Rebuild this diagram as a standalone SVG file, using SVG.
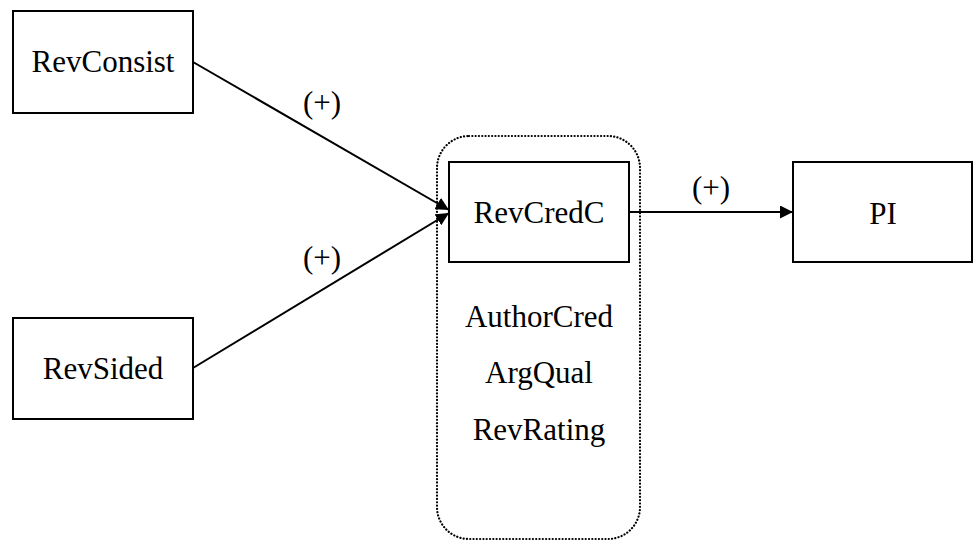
<svg xmlns="http://www.w3.org/2000/svg" width="973" height="541" viewBox="0 0 973 541">
<defs>
<style>
.box{fill:#fff;stroke:#000;stroke-width:2}
.t{font-family:"Liberation Serif","Times New Roman",serif;font-size:31px;fill:#000;text-anchor:middle}
.c{stroke:#000;stroke-width:2;fill:none;marker-end:url(#ah)}
.grp{fill:none;stroke:#000;stroke-width:2.2;stroke-dasharray:0.1 3.2;stroke-linecap:round}
</style>
<marker id="ah" viewBox="0 0 10 10" refX="10" refY="5" markerWidth="6.5" markerHeight="6.5" orient="auto" markerUnits="strokeWidth">
<path d="M0,0 L10,5 L0,10 z" fill="#000"/>
</marker>
</defs>
<rect width="973" height="541" fill="#fff"/>
<g id="group-container">
<rect class="grp" x="437" y="136" width="203" height="403" rx="32" ry="32"/>
</g>
<g id="connectors">
<line class="c" x1="193" y1="62" x2="449" y2="210"/>
<line class="c" x1="193" y1="368" x2="449" y2="213"/>
<line class="c" x1="629" y1="212" x2="793" y2="212"/>
<text class="t" x="322" y="113">(+)</text>
<text class="t" x="322" y="268">(+)</text>
<text class="t" x="711" y="198">(+)</text>
</g>
<g id="RevConsist">
<rect class="box" x="13" y="11" width="180" height="102"/>
<text class="t" x="103" y="72">RevConsist</text>
</g>
<g id="RevSided">
<rect class="box" x="13" y="318" width="180" height="101"/>
<text class="t" x="103" y="379">RevSided</text>
</g>
<g id="RevCredC">
<rect class="box" x="449" y="162" width="180" height="100"/>
<text class="t" x="539" y="223">RevCredC</text>
</g>
<g id="PI">
<rect class="box" x="793" y="162" width="179" height="100"/>
<text class="t" x="883" y="224">PI</text>
</g>
<g id="items">
<text class="t" x="539" y="327">AuthorCred</text>
<text class="t" x="539" y="383">ArgQual</text>
<text class="t" x="539" y="440">RevRating</text>
</g>
</svg>
